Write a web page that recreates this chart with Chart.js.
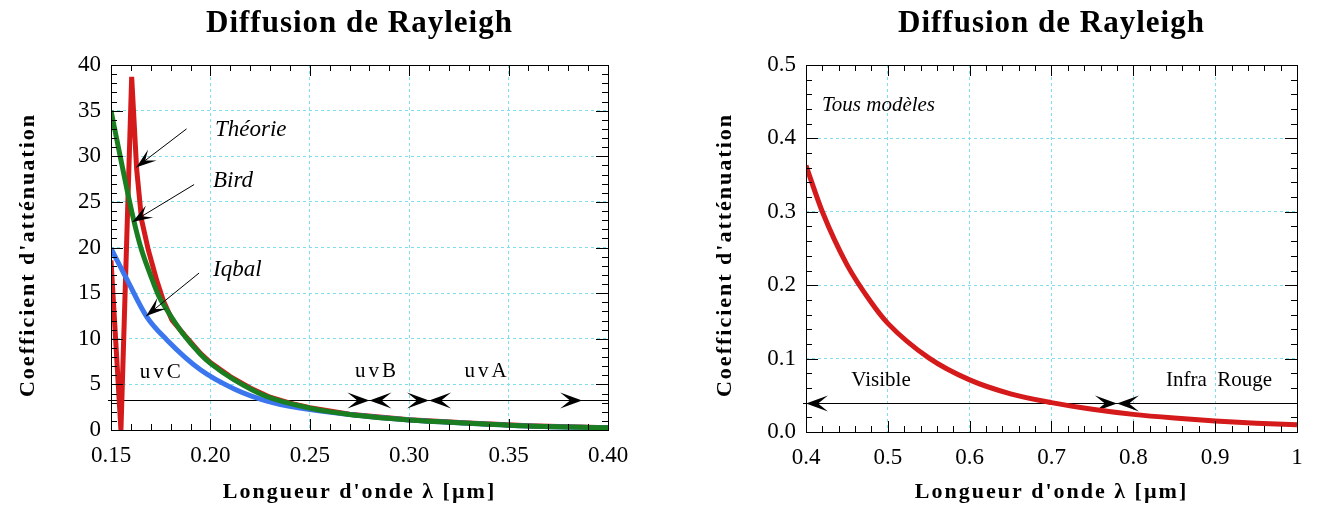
<!DOCTYPE html>
<html lang="fr">
<head>
<meta charset="utf-8">
<title>Diffusion de Rayleigh</title>
<script src="https://cdn.jsdelivr.net/npm/chart.js@4.4.1/dist/chart.umd.min.js"></script>
<style>
  html, body { margin: 0; padding: 0; background: #fff; }
  #wrap { display: flex; width: 1318px; height: 515px; }
  canvas { display: block; }
</style>
</head>
<body>
<div id="wrap">
  <canvas id="uvChart" width="659" height="515"></canvas>
  <canvas id="visChart" width="659" height="515"></canvas>
</div>
<script>
const theoryX = [0.150, 0.155, 0.1604, 0.1629, 0.1654, 0.1688, 0.1730, 0.1763, 0.1807, 0.1870, 0.195, 0.200, 0.210, 0.220, 0.230, 0.240, 0.250, 0.270, 0.300, 0.330, 0.360, 0.400];
const theoryY = [18.6, 0.0, 38.7, 28.6, 23.0, 19.7, 16.4, 14.2, 12.05, 10.4, 8.4, 7.4, 5.85, 4.6, 3.6, 2.95, 2.45, 1.72, 1.12, 0.77, 0.47, 0.26];

const birdX = [0.150, 0.155, 0.161, 0.165, 0.170, 0.174, 0.178, 0.186, 0.195, 0.200, 0.212, 0.228, 0.250, 0.270, 0.300, 0.330, 0.360, 0.400];
const birdY = [35.0, 29.6, 23.4, 20.0, 16.9, 14.7, 13.2, 10.6, 8.3, 7.3, 5.5, 3.7, 2.4, 1.7, 1.1, 0.75, 0.45, 0.25];

const iqbalX = [0.150, 0.158, 0.168, 0.178, 0.195, 0.212, 0.228, 0.245, 0.270, 0.300, 0.330, 0.360, 0.400];
const iqbalY = [19.9, 16.5, 12.4, 9.9, 6.6, 4.5, 3.2, 2.4, 1.7, 1.1, 0.75, 0.45, 0.25];

const visX = [0.40, 0.42, 0.45, 0.48, 0.50, 0.55, 0.60, 0.65, 0.70, 0.75, 0.80, 0.85, 0.90, 0.95, 1.00];
const visY = [0.363, 0.300, 0.228, 0.176, 0.148, 0.101, 0.071, 0.052, 0.040, 0.031, 0.024, 0.019, 0.015, 0.012, 0.010];

// Graduations
const uvXTicks = [0.15, 0.20, 0.25, 0.30, 0.35, 0.40];
const uvXLabels = ['0.15', '0.20', '0.25', '0.30', '0.35', '0.40'];
const uvYTicks = [0, 5, 10, 15, 20, 25, 30, 35, 40];
const uvYLabels = ['0', '5', '10', '15', '20', '25', '30', '35', '40'];
const visXTicks = [0.4, 0.5, 0.6, 0.7, 0.8, 0.9, 1.0];
const visXLabels = ['0.4', '0.5', '0.6', '0.7', '0.8', '0.9', '1'];
const visYTicks = [0, 0.1, 0.2, 0.3, 0.4, 0.5];
const visYLabels = ['0.0', '0.1', '0.2', '0.3', '0.4', '0.5'];

const serif = "'Liberation Serif', 'DejaVu Serif', serif";
const gridColor = '#7fdfec';
const toPoints = (xs, ys) => xs.map((x, i) => ({ x, y: ys[i] }));

// pointe de flèche noire (pointe en tx,ty)
function arrowHead(ctx, tx, ty, angle, len, half) {
  ctx.save();
  ctx.translate(tx, ty);
  ctx.rotate(angle);
  ctx.beginPath();
  ctx.moveTo(0, 0);
  ctx.lineTo(-len, -half);
  ctx.lineTo(-len * 0.55, 0);
  ctx.lineTo(-len, half);
  ctx.closePath();
  ctx.fill();
  ctx.restore();
}

// cadre, graduations intérieures, titres, flèches et textes
const decoPlugin = {
  id: 'deco',
  beforeDatasetsDraw(chart, args, opts) {
    const { ctx, chartArea: a, scales: { x, y } } = chart;
    if (!opts.band) return;
    const py = Math.round(y.getPixelForValue(opts.band.y)) + 0.5;
    ctx.save();
    ctx.strokeStyle = '#000';
    ctx.fillStyle = '#000';
    ctx.lineWidth = 1;
    ctx.beginPath();
    ctx.moveTo(a.left - 3, py);
    ctx.lineTo(a.right, py);
    ctx.stroke();
    opts.band.heads.forEach(h => {
      arrowHead(ctx, x.getPixelForValue(h.x), py, h.dir === 'left' ? Math.PI : 0, 22, 8);
    });
    ctx.restore();
  },
  afterDatasetsDraw(chart, args, opts) {
    const { ctx, scales: { x, y } } = chart;
    ctx.save();
    ctx.strokeStyle = '#000';
    ctx.fillStyle = '#000';
    ctx.lineWidth = 1;
    (opts.pointers || []).forEach(p => {
      const x1 = x.getPixelForValue(p.from[0]), y1 = y.getPixelForValue(p.from[1]);
      const x2 = x.getPixelForValue(p.to[0]), y2 = y.getPixelForValue(p.to[1]);
      ctx.beginPath();
      ctx.moveTo(x1, y1);
      ctx.lineTo(x2, y2);
      ctx.stroke();
      arrowHead(ctx, x2, y2, Math.atan2(y2 - y1, x2 - x1), 20, 7);
    });
    (opts.texts || []).forEach(t => {
      ctx.font = t.font;
      ctx.letterSpacing = t.spacing || '0px';
      ctx.textAlign = t.align || 'left';
      ctx.textBaseline = 'alphabetic';
      ctx.fillText(t.text, x.getPixelForValue(t.x), y.getPixelForValue(t.y));
    });
    ctx.restore();
  },
  afterDraw(chart, args, opts) {
    const { ctx, chartArea: a, scales: { x, y } } = chart;
    ctx.save();
    ctx.strokeStyle = '#000';
    ctx.lineWidth = 1;
    ctx.strokeRect(Math.round(a.left) + 0.5, Math.round(a.top) + 0.5,
      Math.round(a.right - a.left), Math.round(a.bottom - a.top));
    const tickSet = (scale, step, majors) => {
      const out = [];
      const n = Math.round((scale.max - scale.min) / step);
      for (let i = 0; i <= n; i++) {
        const v = scale.min + i * step;
        const major = majors.some(m => Math.abs(m - v) < step / 10);
        out.push({ p: Math.round(scale.getPixelForValue(v)) + 0.5, major });
      }
      return out;
    };
    ctx.beginPath();
    tickSet(x, opts.xMinor, opts.xMajors).forEach(t => {
      const l = t.major ? 11 : 6;
      ctx.moveTo(t.p, a.bottom); ctx.lineTo(t.p, a.bottom - l);
      ctx.moveTo(t.p, a.top); ctx.lineTo(t.p, a.top + l);
    });
    tickSet(y, opts.yMinor, opts.yMajors).forEach(t => {
      const l = t.major ? 12 : 6;
      ctx.moveTo(a.left, t.p); ctx.lineTo(a.left + l, t.p);
      ctx.moveTo(a.right, t.p); ctx.lineTo(a.right - l, t.p);
    });
    ctx.stroke();
    ctx.fillStyle = '#000';
    ctx.textBaseline = 'alphabetic';
    ctx.textAlign = 'center';
    // titre centré sur la zone de tracé
    ctx.font = 'bold 31px ' + serif;
    ctx.letterSpacing = '1px';
    ctx.fillText(opts.title, (a.left + a.right) / 2, 32);
    // titres des axes
    ctx.font = 'bold 22px ' + serif;
    ctx.letterSpacing = '2px';
    ctx.fillText(opts.xTitle, (a.left + a.right) / 2, 498);
    ctx.save();
    ctx.translate(opts.yTitleX, 255);
    ctx.rotate(-Math.PI / 2);
    ctx.fillText(opts.yTitle, 0, 0);
    ctx.restore();
    ctx.restore();
  }
};

const tickFont = { family: serif, size: 23 };

function makeScales(cfg) {
  return {
    x: {
      type: 'linear', min: cfg.xMin, max: cfg.xMax,
      afterBuildTicks: s => { s.ticks = cfg.xTicks.map(v => ({ value: v })); },
      afterFit: s => { s.height = cfg.xHeight; },
      ticks: { callback: (v, i) => cfg.xLabels[i], font: tickFont, color: '#000', padding: 12, maxRotation: 0, autoSkip: false },
      grid: { color: gridColor, drawTicks: false, lineWidth: 1 },
      border: { display: false, dash: [3, 3] }
    },
    y: {
      type: 'linear', min: cfg.yMin, max: cfg.yMax,
      afterBuildTicks: s => { s.ticks = cfg.yTicks.map(v => ({ value: v })); },
      afterFit: s => { s.width = cfg.yWidth; },
      ticks: { callback: (v, i) => cfg.yLabels[i], font: tickFont, color: '#000', padding: 10, autoSkip: false },
      grid: { color: gridColor, drawTicks: false, lineWidth: 1 },
      border: { display: false, dash: [3, 3] }
    }
  };
}

const lineDefaults = { showLine: true, pointRadius: 0, borderWidth: 5, fill: false, cubicInterpolationMode: 'monotone', borderCapStyle: 'butt', borderJoinStyle: 'round' };

// Graphique de gauche : ultraviolet (le premier jeu est dessiné au-dessus)
new Chart(document.getElementById('uvChart'), {
  type: 'scatter',
  data: {
    datasets: [
      { ...lineDefaults, label: 'Bird', data: toPoints(birdX, birdY), borderColor: '#1a7d1f' },
      { ...lineDefaults, label: 'Iqbal', data: toPoints(iqbalX, iqbalY), borderColor: '#3b76ee' },
      { ...lineDefaults, label: 'Théorie', data: toPoints(theoryX, theoryY), borderColor: '#d41a1a', cubicInterpolationMode: 'default', tension: 0, borderJoinStyle: 'miter' }
    ]
  },
  options: {
    responsive: false,
    animation: false,
    layout: { padding: { top: 65, right: 51, bottom: 0, left: 0 } },
    scales: makeScales({ xMin: 0.15, xMax: 0.40, yMin: 0, yMax: 40, xTicks: uvXTicks, xLabels: uvXLabels, yTicks: uvYTicks, yLabels: uvYLabels, xHeight: 85, yWidth: 111 }),
    plugins: {
      legend: { display: false },
      tooltip: { enabled: false },
      deco: {
        title: 'Diffusion de Rayleigh',
        xTitle: "Longueur d'onde λ [µm]",
        yTitle: "Coefficient d'atténuation",
        yTitleX: 34,
        xMinor: 0.01, xMajors: uvXTicks, yMinor: 1, yMajors: uvYTicks,
        band: { y: 3.3, heads: [
          { x: 0.28, dir: 'right' }, { x: 0.28, dir: 'left' },
          { x: 0.31, dir: 'right' }, { x: 0.31, dir: 'left' },
          { x: 0.387, dir: 'right' }
        ] },
        pointers: [
          { from: [0.188, 33.0], to: [0.1628, 28.8] },
          { from: [0.1918, 26.9], to: [0.1608, 22.8] },
          { from: [0.1943, 17.2], to: [0.1677, 12.5] }
        ],
        texts: [
          { text: 'Théorie', x: 0.2023, y: 32.2, font: 'italic 23px ' + serif },
          { text: 'Bird', x: 0.2013, y: 26.6, font: 'italic 23px ' + serif },
          { text: 'Iqbal', x: 0.2013, y: 16.9, font: 'italic 23px ' + serif },
          { text: 'uvC', x: 0.1755, y: 5.7, font: '21px ' + serif, align: 'center', spacing: '3px' },
          { text: 'uvB', x: 0.2838, y: 5.8, font: '21px ' + serif, align: 'center', spacing: '3px' },
          { text: 'uvA', x: 0.3392, y: 5.8, font: '21px ' + serif, align: 'center', spacing: '3px' }
        ]
      }
    }
  },
  plugins: [decoPlugin]
});

// Graphique de droite : visible et infrarouge
new Chart(document.getElementById('visChart'), {
  type: 'scatter',
  data: {
    datasets: [
      { ...lineDefaults, label: 'Tous modèles', data: toPoints(visX, visY), borderColor: '#d41a1a' }
    ]
  },
  options: {
    responsive: false,
    animation: false,
    layout: { padding: { top: 65, right: 21, bottom: 0, left: 0 } },
    scales: makeScales({ xMin: 0.4, xMax: 1.0, yMin: 0, yMax: 0.5, xTicks: visXTicks, xLabels: visXLabels, yTicks: visYTicks, yLabels: visYLabels, xHeight: 83, yWidth: 147 }),
    plugins: {
      legend: { display: false },
      tooltip: { enabled: false },
      deco: {
        title: 'Diffusion de Rayleigh',
        xTitle: "Longueur d'onde λ [µm]",
        yTitle: "Coefficient d'atténuation",
        yTitleX: 72,
        xMinor: 0.02, xMajors: visXTicks, yMinor: 0.02, yMajors: visYTicks,
        band: { y: 0.04, heads: [
          { x: 0.40, dir: 'left' },
          { x: 0.78, dir: 'right' }, { x: 0.78, dir: 'left' }
        ] },
        texts: [
          { text: 'Tous modèles', x: 0.4196, y: 0.438, font: 'italic 21px ' + serif },
          { text: 'Visible', x: 0.4917, y: 0.063, font: '21px ' + serif, align: 'center' },
          { text: 'Infra  Rouge', x: 0.9047, y: 0.063, font: '21px ' + serif, align: 'center' }
        ]
      }
    }
  },
  plugins: [decoPlugin]
});
</script>
</body>
</html>
